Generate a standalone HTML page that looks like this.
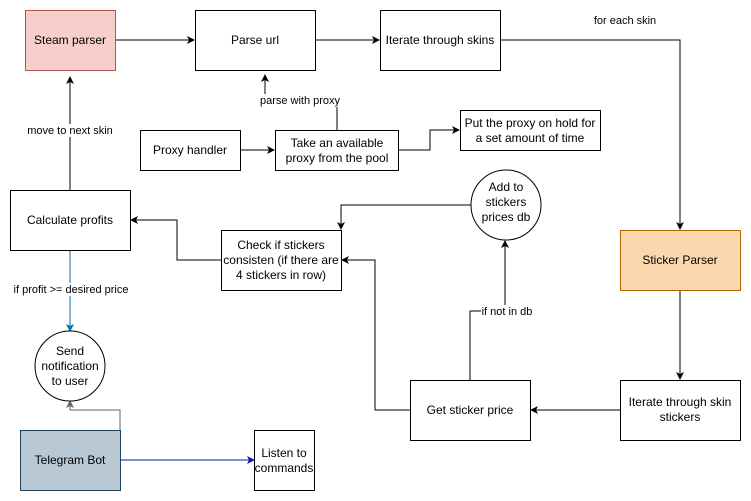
<!DOCTYPE html>
<html><head><style>
html,body{margin:0;padding:0;background:#fff;}
svg{display:block;font-family:"Liberation Sans",Arial,sans-serif;}
</style></head><body>
<svg width="751" height="501" viewBox="0 0 751 501" xmlns="http://www.w3.org/2000/svg">
<defs>
<marker id="a" markerWidth="8" markerHeight="8" refX="7" refY="4" orient="auto" markerUnits="userSpaceOnUse"><path d="M0,0 L8,4 L0,8 L2,4 z" fill="#000"/></marker>
<marker id="ab" markerWidth="8" markerHeight="8" refX="7" refY="4" orient="auto" markerUnits="userSpaceOnUse"><path d="M0,0 L8,4 L0,8 L2,4 z" fill="#006EAF"/></marker>
<marker id="ad" markerWidth="8" markerHeight="8" refX="7" refY="4" orient="auto" markerUnits="userSpaceOnUse"><path d="M0,0 L8,4 L0,8 L2,4 z" fill="#001DBC"/></marker>
<marker id="ag" markerWidth="8" markerHeight="8" refX="7" refY="4" orient="auto" markerUnits="userSpaceOnUse"><path d="M0,0 L8,4 L0,8 L2,4 z" fill="#666"/></marker>
</defs>
<g fill="none" stroke="#000" stroke-width="1">
<path d="M115,40 H194" marker-end="url(#a)"/>
<path d="M315,40 H379" marker-end="url(#a)"/>
<path d="M500,40 H680 V229" marker-end="url(#a)"/>
<path d="M680,290 V379" marker-end="url(#a)"/>
<path d="M620,410 H531" marker-end="url(#a)"/>
<path d="M470,380 V311 H505 V241" marker-end="url(#a)"/>
<path d="M410,410 H375 V260 H342" marker-end="url(#a)"/>
<path d="M471,205 H341 V229" marker-end="url(#a)"/>
<path d="M221,260 H177 V220 H131" marker-end="url(#a)"/>
<path d="M70,190 V77" marker-end="url(#a)"/>
<path d="M240,150 H274" marker-end="url(#a)"/>
<path d="M337,130 V100 H265 V75" marker-end="url(#a)"/>
<path d="M398,150 H430 V130 H459" marker-end="url(#a)"/>
</g>
<path d="M70,250 V331" stroke="#006EAF" fill="none" marker-end="url(#ab)"/>
<path d="M120,460 H254" stroke="#001DBC" fill="none" marker-end="url(#ad)"/>
<path d="M120,430 V410 H70 V401" stroke="#666" fill="none" marker-end="url(#ag)"/>
<g stroke="#000" fill="#fff">
<rect x="25.5" y="10.5" width="90" height="60" fill="#f8cecc" stroke="#b85450"/>
<rect x="195.5" y="10.5" width="120" height="60"/>
<rect x="380.5" y="10.5" width="120" height="60"/>
<rect x="140.5" y="130.5" width="100" height="40"/>
<rect x="275.5" y="130.5" width="123" height="40"/>
<rect x="460.5" y="110.5" width="140" height="40"/>
<rect x="10.5" y="190.5" width="120" height="60"/>
<rect x="221.5" y="230.5" width="120" height="60"/>
<circle cx="506" cy="205" r="35"/>
<rect x="620.5" y="230.5" width="120" height="60" fill="#fad7ac" stroke="#b46504"/>
<rect x="620.5" y="380.5" width="120" height="60"/>
<rect x="410.5" y="380.5" width="120" height="60"/>
<circle cx="70" cy="366" r="35"/>
<rect x="20.5" y="430.5" width="100" height="60" fill="#bac8d3" stroke="#23445d"/>
<rect x="254.5" y="430.5" width="60" height="60"/>
</g>
<g font-size="12" text-anchor="middle" fill="#000">
<text x="70" y="44">Steam parser</text>
<text x="255" y="44">Parse url</text>
<text x="440" y="44">Iterate through skins</text>
<text x="190" y="154">Proxy handler</text>
<text x="337" y="147">Take an available</text>
<text x="337" y="162">proxy from the pool</text>
<text x="530" y="127">Put the proxy on hold for</text>
<text x="530" y="142">a set amount of time</text>
<text x="70" y="224">Calculate profits</text>
<text x="281" y="249">Check if stickers</text>
<text x="281" y="264">consisten (if there are</text>
<text x="281" y="279">4 stickers in row)</text>
<text x="506" y="191">Add to</text>
<text x="506" y="206">stickers</text>
<text x="506" y="221">prices db</text>
<text x="680" y="264">Sticker Parser</text>
<text x="680" y="406">Iterate through skin</text>
<text x="680" y="421">stickers</text>
<text x="470" y="414">Get sticker price</text>
<text x="70" y="355">Send</text>
<text x="70" y="370">notification</text>
<text x="70" y="385">to user</text>
<text x="70" y="464">Telegram Bot</text>
<text x="284" y="457">Listen to</text>
<text x="284" y="472">commands</text>
</g>
<g font-size="11" text-anchor="middle" fill="#000">
<rect x="257" y="94" width="86" height="13" fill="#fff"/>
<text x="300" y="104">parse with proxy</text>
<text x="625" y="24">for each skin</text>
<rect x="25" y="124" width="90" height="13" fill="#fff"/>
<text x="70" y="134">move to next skin</text>
<rect x="12" y="283" width="118" height="13" fill="#fff"/>
<text x="71" y="293">if profit &gt;= desired price</text>
<rect x="481" y="305" width="52" height="13" fill="#fff"/>
<text x="507" y="315">if not in db</text>
</g>
</svg>
</body></html>
